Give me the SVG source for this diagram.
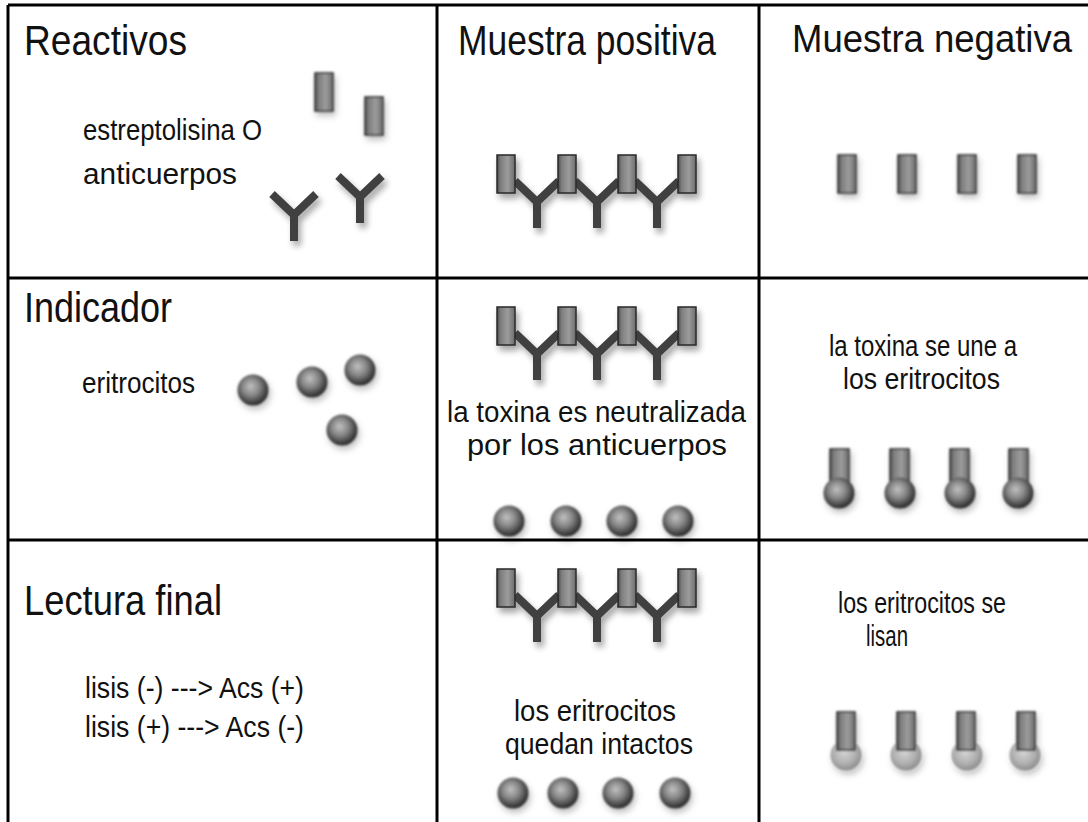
<svg xmlns="http://www.w3.org/2000/svg" xmlns:xlink="http://www.w3.org/1999/xlink" width="1088" height="822" viewBox="0 0 1088 822">
  <style>
    .grid { stroke: #000; stroke-width: 3; fill: none; }
    .head { font-family: "Liberation Sans", Arial, sans-serif; font-size: 43px; fill: #111; }
    .lbl { font-family: "Liberation Sans", Arial, sans-serif; font-size: 29px; fill: #111; }
    .ab { stroke: #404040; stroke-width: 8; fill: none; stroke-linecap: butt; stroke-linejoin: miter; }
  </style>
  <defs>
    <filter id="shadow" x="-50%" y="-50%" width="200%" height="200%">
      <feGaussianBlur in="SourceGraphic" stdDeviation="0.6" result="soft"/>
      <feDropShadow in="soft" dx="3" dy="5" stdDeviation="3" flood-color="#000" flood-opacity="0.35"/>
    </filter>
    <filter id="soft" x="-50%" y="-50%" width="200%" height="200%">
      <feGaussianBlur stdDeviation="0.8" result="b"/>
      <feDropShadow in="b" dx="2" dy="4" stdDeviation="3" flood-color="#000" flood-opacity="0.25"/>
    </filter>
    <linearGradient id="toxFill" x1="0" y1="0" x2="1" y2="0">
      <stop offset="0" stop-color="#4a4a4a"/>
      <stop offset="0.2" stop-color="#7e7e7e"/>
      <stop offset="0.6" stop-color="#9c9c9c"/>
      <stop offset="1" stop-color="#6a6a6a"/>
    </linearGradient>
    <radialGradient id="cellFill" cx="0.45" cy="0.42" r="0.6" fx="0.42" fy="0.38">
      <stop offset="0" stop-color="#c0c0c0"/>
      <stop offset="0.45" stop-color="#888"/>
      <stop offset="0.8" stop-color="#474747"/>
      <stop offset="1" stop-color="#222"/>
    </radialGradient>
    <radialGradient id="lysedFill" cx="0.45" cy="0.42" r="0.6">
      <stop offset="0" stop-color="#d4d4d4"/>
      <stop offset="0.6" stop-color="#b0b0b0"/>
      <stop offset="1" stop-color="#8a8a8a"/>
    </radialGradient>
    <!-- toxin (streptolysin O) block -->
    <rect id="toxin" x="0" y="0" width="18" height="38" fill="url(#toxFill)" stroke="#2a2a2a" stroke-width="1.5"/>
    <rect id="toxinLong" x="0" y="0" width="19" height="40" fill="url(#toxFill)" stroke="#2a2a2a" stroke-width="1.5"/>
    <!-- antibody, origin at the fork -->
    <path id="antibody" class="ab" d="M-22,-21 L0,0 L22,-21 M0,0 V26"/>
    <!-- red cell -->
    <circle id="cell" r="15.5" fill="url(#cellFill)"/>
    <circle id="lysed" r="15.5" fill="url(#lysedFill)"/>
  </defs>

  <rect width="1088" height="822" fill="#fff"/>

  <!-- table grid -->
  <g id="grid">
    <path class="grid" d="M8,5 H1088 M8,5 V822 M8,278 H1088 M8,540 H1088 M437,5 V822 M759,5 V822"/>
  </g>

  <!-- headings -->
  <g id="headings">
    <text class="head" x="24" y="55" textLength="163" lengthAdjust="spacingAndGlyphs">Reactivos</text>
    <text class="head" x="458" y="55" textLength="258" lengthAdjust="spacingAndGlyphs">Muestra positiva</text>
    <text class="head" x="792" y="52" style="font-size:38px" textLength="280" lengthAdjust="spacingAndGlyphs">Muestra negativa</text>
    <text class="head" x="24" y="322" textLength="148" lengthAdjust="spacingAndGlyphs">Indicador</text>
    <text class="head" x="24" y="615" textLength="198" lengthAdjust="spacingAndGlyphs">Lectura final</text>
  </g>

  <!-- reagents -->
  <g id="reagents">
    <text class="lbl" x="83" y="140" textLength="179" lengthAdjust="spacingAndGlyphs">estreptolisina O</text>
    <text class="lbl" x="83" y="184" textLength="154" lengthAdjust="spacingAndGlyphs">anticuerpos</text>
    <g filter="url(#soft)">
      <use xlink:href="#toxin" x="315" y="73"/>
      <use xlink:href="#toxin" x="365" y="97"/>
    </g>
    <g filter="url(#shadow)">
      <use xlink:href="#antibody" x="294" y="215"/>
      <use xlink:href="#antibody" x="360" y="197"/>
    </g>
  </g>

  <!-- positive sample: toxin + antibody -->
  <g id="pos-reagents" filter="url(#shadow)">
    <use xlink:href="#antibody" x="537" y="202"/>
    <use xlink:href="#antibody" x="597" y="202"/>
    <use xlink:href="#antibody" x="657" y="202"/>
    <use xlink:href="#toxin" x="497" y="155"/>
    <use xlink:href="#toxin" x="558" y="155"/>
    <use xlink:href="#toxin" x="618" y="155"/>
    <use xlink:href="#toxin" x="678" y="155"/>
  </g>

  <!-- negative sample: free toxin -->
  <g id="neg-reagents" filter="url(#soft)">
    <use xlink:href="#toxin" x="838" y="155"/>
    <use xlink:href="#toxin" x="898" y="155"/>
    <use xlink:href="#toxin" x="958" y="155"/>
    <use xlink:href="#toxin" x="1018" y="155"/>
  </g>

  <!-- indicator -->
  <g id="indicator">
    <text class="lbl" x="82" y="393" textLength="113" lengthAdjust="spacingAndGlyphs">eritrocitos</text>
    <g filter="url(#soft)">
      <use xlink:href="#cell" x="253" y="390"/>
      <use xlink:href="#cell" x="312" y="382"/>
      <use xlink:href="#cell" x="360" y="370"/>
      <use xlink:href="#cell" x="342" y="430"/>
    </g>
  </g>

  <!-- positive sample: neutralised toxin -->
  <g id="pos-indicator">
    <g filter="url(#shadow)">
      <use xlink:href="#antibody" x="537" y="354"/>
      <use xlink:href="#antibody" x="597" y="354"/>
      <use xlink:href="#antibody" x="657" y="354"/>
      <use xlink:href="#toxin" x="497" y="307"/>
      <use xlink:href="#toxin" x="558" y="307"/>
      <use xlink:href="#toxin" x="618" y="307"/>
      <use xlink:href="#toxin" x="678" y="307"/>
    </g>
    <text class="lbl" x="447" y="422" textLength="299" lengthAdjust="spacingAndGlyphs">la toxina es neutralizada</text>
    <text class="lbl" x="467" y="455" textLength="260" lengthAdjust="spacingAndGlyphs">por los anticuerpos</text>
    <g filter="url(#soft)">
      <use xlink:href="#cell" x="509" y="521"/>
      <use xlink:href="#cell" x="566" y="521"/>
      <use xlink:href="#cell" x="622" y="521"/>
      <use xlink:href="#cell" x="678" y="521"/>
    </g>
  </g>

  <!-- negative sample: toxin binds the cells -->
  <g id="neg-indicator">
    <text class="lbl" x="829" y="356" textLength="188" lengthAdjust="spacingAndGlyphs">la toxina se une a</text>
    <text class="lbl" x="843" y="389" textLength="157" lengthAdjust="spacingAndGlyphs">los eritrocitos</text>
    <g filter="url(#soft)">
      <use xlink:href="#toxinLong" x="830" y="449"/>
      <use xlink:href="#toxinLong" x="890" y="449"/>
      <use xlink:href="#toxinLong" x="950" y="449"/>
      <use xlink:href="#toxinLong" x="1009" y="449"/>
      <use xlink:href="#cell" x="839" y="493"/>
      <use xlink:href="#cell" x="900" y="493"/>
      <use xlink:href="#cell" x="960" y="493"/>
      <use xlink:href="#cell" x="1018" y="493"/>
    </g>
  </g>

  <!-- final reading -->
  <g id="reading">
    <text class="lbl" x="85" y="698" textLength="219" lengthAdjust="spacingAndGlyphs">lisis (-) ---&gt; Acs (+)</text>
    <text class="lbl" x="85" y="737" textLength="219" lengthAdjust="spacingAndGlyphs">lisis (+) ---&gt; Acs (-)</text>
  </g>

  <!-- positive sample: intact cells -->
  <g id="pos-reading">
    <g filter="url(#shadow)">
      <use xlink:href="#antibody" x="537" y="616"/>
      <use xlink:href="#antibody" x="597" y="616"/>
      <use xlink:href="#antibody" x="657" y="616"/>
      <use xlink:href="#toxin" x="497" y="569"/>
      <use xlink:href="#toxin" x="558" y="569"/>
      <use xlink:href="#toxin" x="618" y="569"/>
      <use xlink:href="#toxin" x="678" y="569"/>
    </g>
    <text class="lbl" x="514" y="721" textLength="162" lengthAdjust="spacingAndGlyphs">los eritrocitos</text>
    <text class="lbl" x="505" y="754" textLength="188" lengthAdjust="spacingAndGlyphs">quedan intactos</text>
    <g filter="url(#soft)">
      <use xlink:href="#cell" x="513" y="793"/>
      <use xlink:href="#cell" x="563" y="793"/>
      <use xlink:href="#cell" x="618" y="793"/>
      <use xlink:href="#cell" x="675" y="793"/>
    </g>
  </g>

  <!-- negative sample: lysed cells -->
  <g id="neg-reading">
    <text class="lbl" x="838" y="613" textLength="168" lengthAdjust="spacingAndGlyphs">los eritrocitos se</text>
    <text class="lbl" x="866" y="646" textLength="42" lengthAdjust="spacingAndGlyphs">lisan</text>
    <g filter="url(#soft)">
      <use xlink:href="#lysed" x="846" y="755"/>
      <use xlink:href="#lysed" x="906" y="755"/>
      <use xlink:href="#lysed" x="967" y="755"/>
      <use xlink:href="#lysed" x="1025" y="755"/>
      <use xlink:href="#toxin" x="837" y="712"/>
      <use xlink:href="#toxin" x="897" y="712"/>
      <use xlink:href="#toxin" x="957" y="712"/>
      <use xlink:href="#toxin" x="1017" y="712"/>
    </g>
  </g>
</svg>
